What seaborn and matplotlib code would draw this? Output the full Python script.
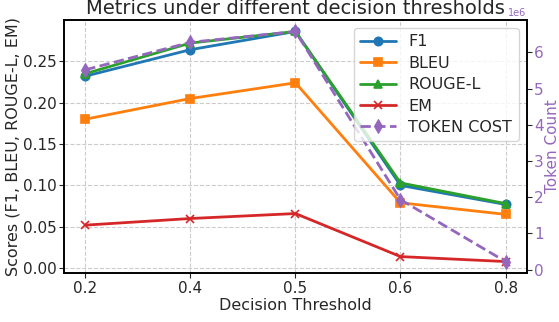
import pandas as pd
import matplotlib
matplotlib.use("Agg")
import matplotlib.pyplot as plt
import seaborn as sns

# ──────────────────────────────
#  Data
# ──────────────────────────────
thresholds = ["0.2", "0.4", "0.5", "0.6", "0.8"]
f1 = [0.232, 0.264, 0.286, 0.100, 0.077]
bleu = [0.180, 0.205, 0.224, 0.079, 0.065]
rouge_l = [0.235, 0.272, 0.286, 0.103, 0.078]
em = [0.052, 0.060, 0.066, 0.014, 0.008]
token_cost = [5.52e6, 6.28e6, 6.58e6, 1.93e6, 0.22e6]

sns.set_style("ticks")
plt.rcParams["font.family"] = ["DejaVu Sans"]

fig, ax = plt.subplots(figsize=(5.59, 3.22), dpi=100)
fig.subplots_adjust(left=0.115, right=0.942, top=0.938, bottom=0.152)

series = [
    ("F1", f1, "#1f77b4", "o"),
    ("BLEU", bleu, "#ff7f0e", "s"),
    ("ROUGE-L", rouge_l, "#2ca02c", "^"),
    ("EM", em, "#d62728", "x"),
]
for name, vals, col, mk in series:
    sns.lineplot(x=thresholds, y=vals, ax=ax, label=name, color=col,
                 marker=mk, markersize=6, linewidth=2,
                 markeredgecolor=col, markeredgewidth=1.2, sort=False)

ax.set_xlabel("Decision Threshold", fontsize=11.5, labelpad=2)
ax.set_ylabel("Scores (F1, BLEU, ROUGE-L, EM)", fontsize=11.5, labelpad=2)
ax.set_title("Metrics under different decision thresholds", fontsize=14, pad=4)
ax.tick_params(labelsize=11, pad=2)
ax.grid(True, linestyle="--", color="#cccccc", linewidth=0.8)
for s in ax.spines.values():
    s.set_color("black")
    s.set_linewidth(1.2)

ax2 = ax.twinx()
sns.lineplot(x=thresholds, y=token_cost, ax=ax2, label="TOKEN COST",
             color="#9467bd", marker="d", markersize=7, linewidth=2,
             linestyle="--", markeredgecolor="#9467bd", sort=False)
ax2.set_ylabel("Token Count", color="#9467bd", fontsize=11, labelpad=1)
ax2.tick_params(axis="y", labelcolor="#9467bd", labelsize=11, pad=2)
ax2.yaxis.get_offset_text().set_color("#9467bd")
ax2.yaxis.get_offset_text().set_fontsize(7)
for s in ax2.spines.values():
    s.set_color("black")
    s.set_linewidth(1.2)

h1, l1 = ax.get_legend_handles_labels()
h2, l2 = ax2.get_legend_handles_labels()
ax.get_legend().remove()
ax2.legend(h1 + h2, l1 + l2, loc="upper right", fontsize=11.5,
           handlelength=2.2, borderaxespad=0.5, labelspacing=0.4)

fig.savefig("out.png", dpi=100)
